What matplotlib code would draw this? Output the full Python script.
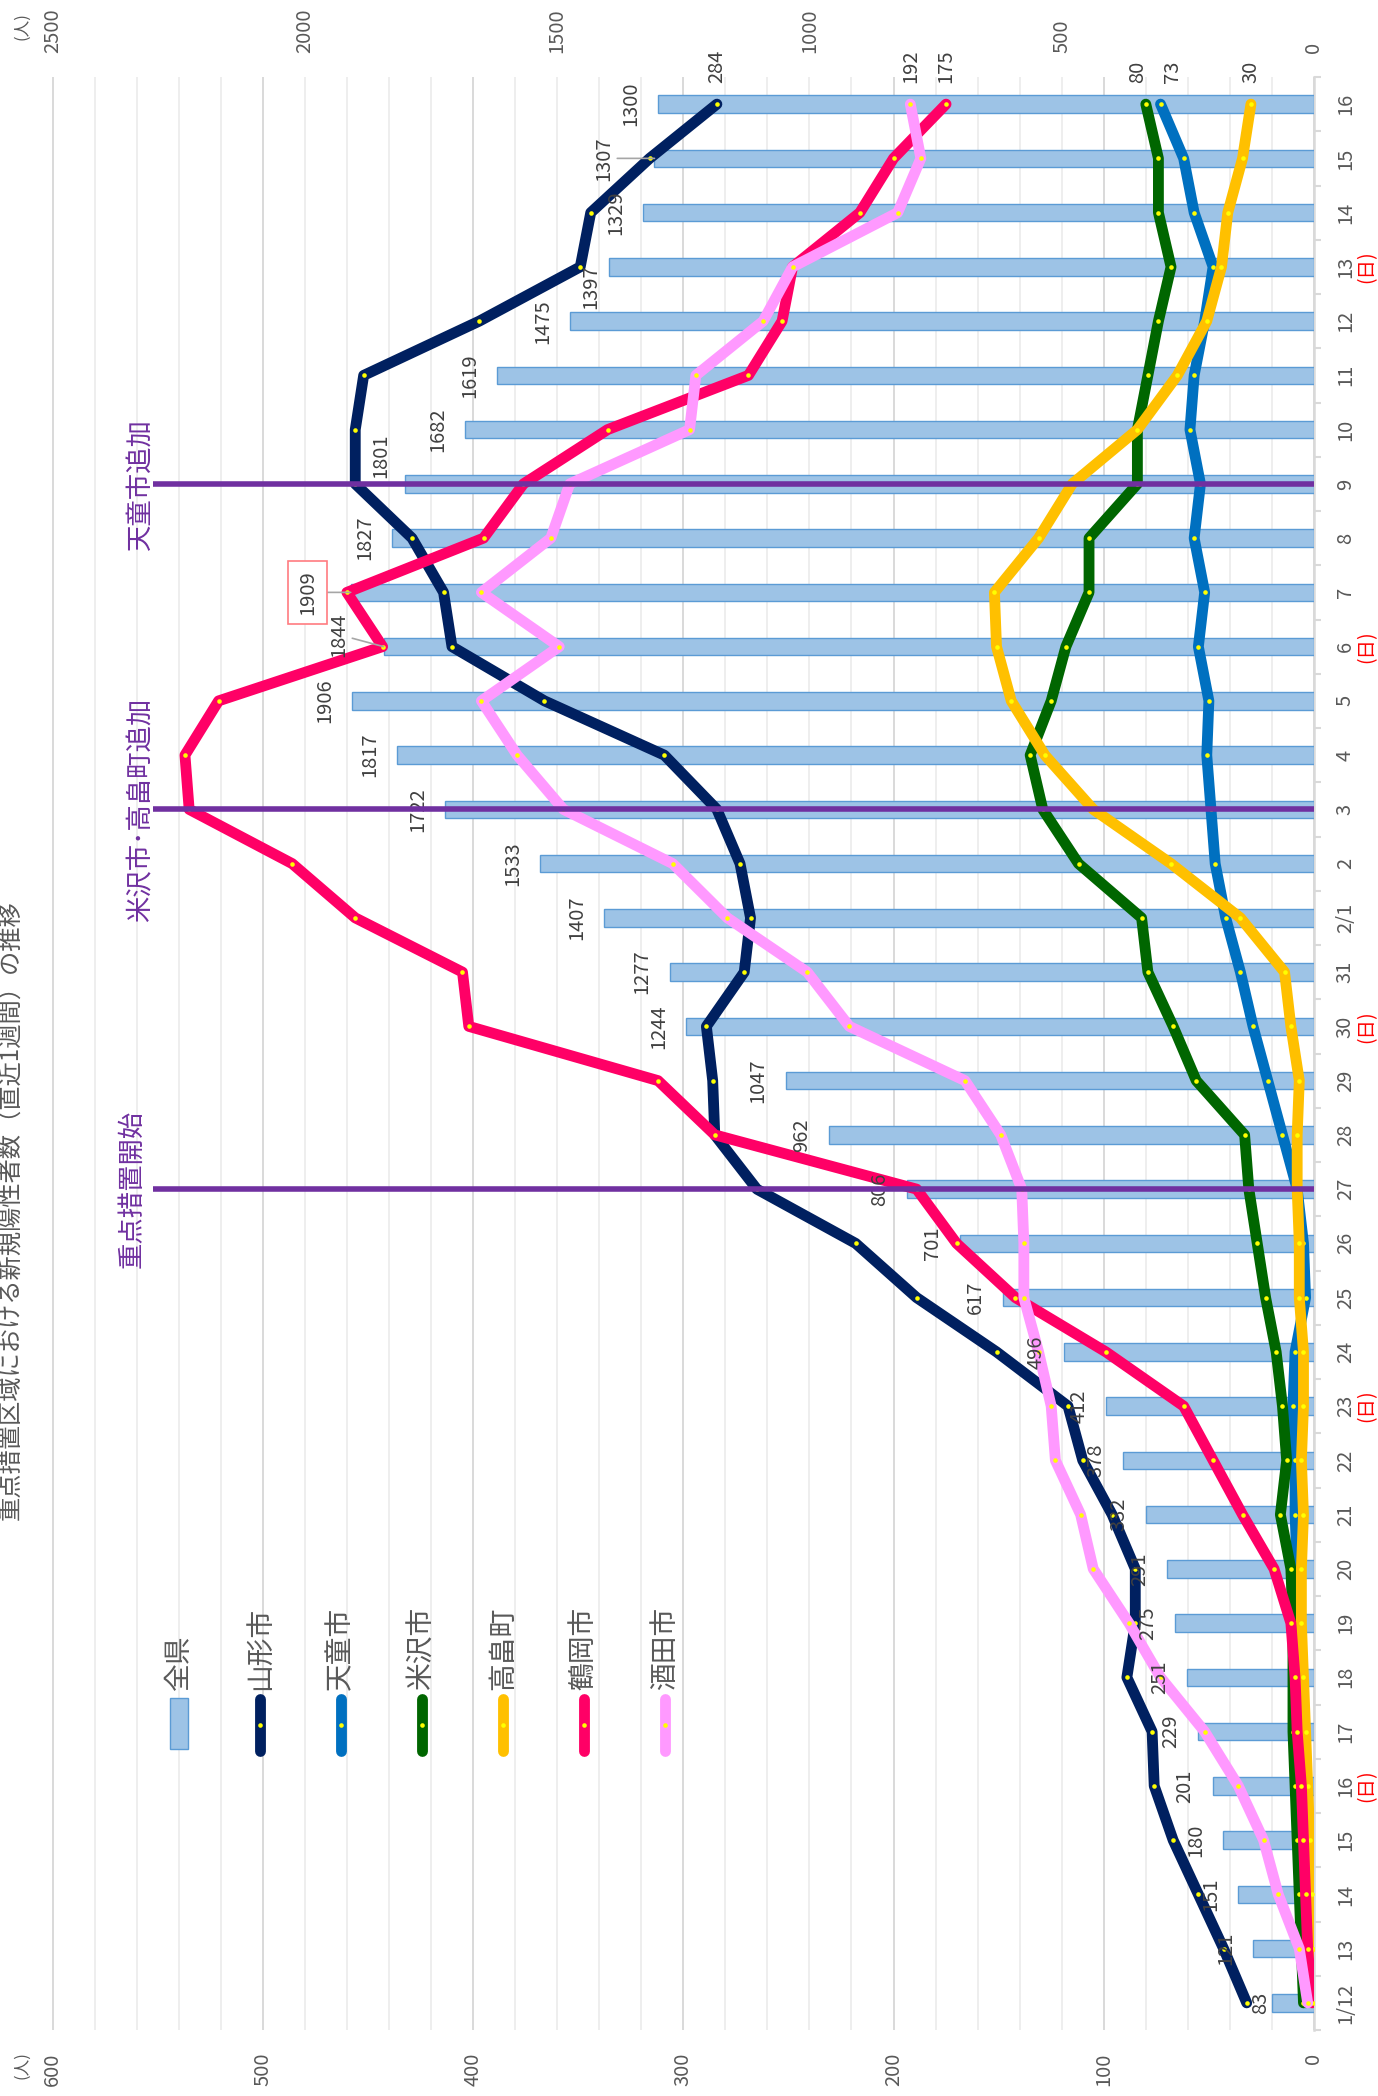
import matplotlib
matplotlib.use('Agg')
import matplotlib.pyplot as plt
from matplotlib.transforms import blended_transform_factory
from matplotlib.lines import Line2D
from matplotlib.patches import Rectangle
import numpy as np

plt.rcParams['font.family'] = ['Noto Sans CJK JP', 'DejaVu Sans']

# ---------------- data ----------------
dates = ['1/12', '13', '14', '15', '16', '17', '18', '19', '20', '21', '22', '23', '24', '25',
         '26', '27', '28', '29', '30', '31', '2/1', '2', '3', '4', '5', '6', '7', '8', '9',
         '10', '11', '12', '13', '14', '15', '16']
day_marks = ['', '', '', '', '(日)', '', '', '', '', '', '', '(日)', '', '', '', '', '', '',
             '(日)', '', '', '', '', '', '', '(日)', '', '', '', '', '', '', '(日)', '', '', '']

zenken = [83, 121, 151, 180, 201, 229, 251, 275, 291, 332, 378, 412, 496, 617, 701, 806,
          962, 1047, 1244, 1277, 1407, 1533, 1722, 1817, 1906, 1844, 1909, 1827, 1801, 1682,
          1619, 1475, 1397, 1329, 1307, 1300]
yamagata = [32, 43, 55, 67, 76, 77, 89, 85, 85, 96, 110, 117, 151, 189, 218, 265, 285, 286,
            289, 271, 268, 273, 284, 309, 366, 410, 414, 429, 456, 456, 452, 397, 349, 344,
            316, 284]
tendo = [4, 6, 6, 6, 6, 6, 6, 7, 8, 9, 9, 10, 9, 4, 5, 8, 15, 22, 29, 35, 42, 47, 49, 51,
         50, 55, 52, 57, 54, 59, 57, 52, 48, 57, 62, 73]
yonezawa = [5, 6, 7, 8, 9, 10, 10, 10, 11, 16, 13, 15, 18, 23, 27, 31, 33, 56, 67, 79, 82,
            112, 129, 135, 125, 118, 107, 107, 84, 84, 79, 74, 68, 74, 74, 80]
takahata = [0, 0, 1, 2, 3, 4, 5, 6, 6, 5, 6, 5, 5, 7, 7, 8, 8, 7, 11, 14, 35, 68, 105, 128,
            144, 151, 152, 131, 115, 84, 65, 51, 44, 41, 34, 30]
tsuruoka = [1, 3, 4, 5, 6, 8, 9, 11, 19, 34, 48, 62, 99, 142, 170, 189, 285, 312, 402, 405,
            456, 486, 535, 537, 521, 443, 460, 395, 376, 336, 269, 253, 248, 216, 200, 175]
sakata = [3, 7, 17, 24, 36, 52, 73, 88, 105, 111, 123, 125, 131, 138, 138, 139, 149, 166,
          221, 241, 279, 305, 357, 379, 396, 359, 396, 363, 354, 297, 294, 262, 248, 198, 187,
          192]

series_names = ['山形市', '天童市', '米沢市', '高畠町', '鶴岡市', '酒田市']
series_values = [yamagata, tendo, yonezawa, takahata, tsuruoka, sakata]
series_colors = ['#002060', '#0070C0', '#006600', '#FFC000', '#FF0066', '#FF99FF']

event_dates = ['27', '3', '9']
event_labels = ['重点措置開始', '米沢市･高畠町追加', '天童市追加']

title = '重点措置区域における新規陽性者数（直近1週間）の推移'

# ---------------- figure ----------------
W, H = 1378, 2096
fig = plt.figure(figsize=(W / 100, H / 100), dpi=100)
fig.patch.set_facecolor('white')

x0, x1 = 52.5, 1314.0
ytop, ybot = 77.0, 2030.0
rect = [x0 / W, 1 - ybot / H, (x1 - x0) / W, (ybot - ytop) / H]

ax_grid = fig.add_axes(rect, zorder=0)
ax_bar = fig.add_axes(rect, zorder=1)
ax_line = fig.add_axes(rect, zorder=2)
ax_bar.patch.set_visible(False)
ax_line.patch.set_visible(False)

n = len(dates)
idx = np.arange(n)
for a in (ax_grid, ax_bar, ax_line):
    a.set_ylim(-0.5, n - 0.5)
    for s in a.spines.values():
        s.set_visible(False)

CITY_MAX, PREF_MAX = 600, 2500
ax_grid.set_xlim(CITY_MAX, 0)
ax_line.set_xlim(CITY_MAX, 0)
ax_bar.set_xlim(PREF_MAX, 0)

txt_gray = '#595959'

# grid (city scale)
ax_grid.set_xticks(np.arange(0, CITY_MAX + 1, 100))
ax_grid.set_xticks(np.arange(0, CITY_MAX + 1, 20), minor=True)
ax_grid.grid(axis='x', which='minor', color='#EDEDED', lw=1.3)
ax_grid.grid(axis='x', which='major', color='#D9D9D9', lw=1.4)
ax_grid.tick_params(axis='x', which='both', bottom=False, top=False,
                    labelbottom=False, labeltop=False)
ax_grid.spines['right'].set_visible(True)
ax_grid.spines['right'].set_color('#D9D9D9')
ax_grid.spines['right'].set_linewidth(1.8)

# date axis (right side)
ax_grid.yaxis.tick_right()
ax_grid.set_yticks(idx)
ax_grid.set_yticklabels(dates)
ax_grid.set_yticks(np.arange(-0.5, n, 1), minor=True)
ax_grid.tick_params(axis='y', which='major', length=0, pad=15, labelsize=14.5,
                    labelcolor=txt_gray, labelrotation=90, left=False)
ax_grid.tick_params(axis='y', which='minor', length=5, width=1.5, color='#D9D9D9',
                    right=True, left=False)
for lab in ax_grid.get_yticklabels():
    lab.set_va('center')
    lab.set_ha('left')

trans_fx = blended_transform_factory(fig.transFigure, ax_grid.transData)
for i, mk in enumerate(day_marks):
    if mk:
        ax_grid.text(1367 / W, i, mk, transform=trans_fx, color='#FF0000', rotation=90,
                     ha='center', va='center', fontsize=14)

# bars (prefecture scale, top axis)
ax_bar.barh(idx, zenken, height=0.32, color='#9DC3E6', edgecolor='#5B9BD5', linewidth=1.0)
ax_bar.xaxis.tick_top()
ax_bar.set_xticks(np.arange(0, PREF_MAX + 1, 500))
ax_bar.tick_params(axis='x', length=0, pad=17.5, labelsize=14.5, labelcolor=txt_gray,
                   labelrotation=90)
ax_bar.tick_params(axis='y', left=False, right=False, labelleft=False, labelright=False)

# lines (city scale, bottom axis)
ax_line.set_xticks(np.arange(0, CITY_MAX + 1, 100))
ax_line.tick_params(axis='x', length=0, pad=16.5, labelsize=14.5, labelcolor=txt_gray,
                    labelrotation=90, bottom=True, top=False)
ax_line.tick_params(axis='y', left=False, right=False, labelleft=False, labelright=False)

LW = 7.8
for name, vals, col in zip(series_names, series_values, series_colors):
    ax_line.plot(vals, idx, color=col, lw=LW, solid_capstyle='round',
                 solid_joinstyle='round', marker='o', ms=3.3, mfc='#FFFF00', mec='none',
                 label=name, zorder=3)

# bar labels (drawn above the lines); a few were moved by hand in the reference
label_offsets = {0: (-1, 0), 25: (-24.5, 8.6), 26: (-23.4, 0), 28: (-10, 19.9),
                 32: (-5.5, -14.4), 34: (-28.8, 0)}
leader_idx = {25, 26, 34}
for i, v in enumerate(zenken):
    dx, dy = label_offsets.get(i, (-12.2, 0))
    kw = {}
    if i in leader_idx:
        kw['arrowprops'] = dict(arrowstyle='-', color='#A6A6A6', lw=1.2, shrinkA=0, shrinkB=0)
    if i == 26:
        kw['bbox'] = dict(boxstyle='square,pad=0.45', fc='white', ec='#FF7C80', lw=1.2)
    ax_line.annotate(str(v), xy=(v, i), xycoords=ax_bar.transData, xytext=(dx, dy),
                     textcoords='offset points', ha='right', va='center', rotation=90,
                     fontsize=14.5, color='#404040', zorder=5, **kw)

# last-point labels
end_dx = {'米沢市': -5.8, '天童市': 8.6}
for name, vals in zip(series_names, series_values):
    ax_line.annotate(str(vals[-1]), xy=(vals[-1], n - 1),
                     xytext=(end_dx.get(name, 0), 15.5), textcoords='offset points',
                     ha='center', va='bottom', rotation=90, fontsize=14.5, color='#404040',
                     zorder=5)

# event lines
purple = '#7030A0'
label_x = [562, 558, 558]
for d, lab, lx in zip(event_dates, event_labels, label_x):
    i = dates.index(d)
    ax_line.hlines(i, 0, 552, color=purple, lw=4, zorder=6)
    ax_line.text(lx, i, lab, rotation=90, ha='center', va='center', fontsize=19,
                 color=purple, zorder=6)

# legend (drawn by hand, rotated)
leg_x = [178.5, 259.8, 340.5, 421.5, 503.0, 583.6, 664.6]
leg_text_bottom = 1690
leg_y0, leg_y1 = 1693, 1756
fig.add_artist(Rectangle(((leg_x[0] - 9) / W, 1 - 1749 / H), 18 / W, 51 / H,
                         transform=fig.transFigure, fc='#9DC3E6', ec='#5B9BD5', lw=1.0))
fig.text(leg_x[0] / W, 1 - leg_text_bottom / H, '全県', rotation=90, ha='center',
         va='bottom', fontsize=20, color=txt_gray)
for xx, name, col in zip(leg_x[1:], series_names, series_colors):
    fig.add_artist(Line2D([xx / W, xx / W], [1 - (leg_y0 + 5.5) / H, 1 - (leg_y1 - 5.5) / H],
                          transform=fig.transFigure, color=col, lw=LW,
                          solid_capstyle='round'))
    fig.add_artist(Line2D([xx / W], [1 - (leg_y0 + leg_y1) / 2 / H], transform=fig.transFigure,
                          marker='o', ms=3.3, mfc='#FFFF00', mec='none', ls='none'))
    fig.text(xx / W, 1 - leg_text_bottom / H, name, rotation=90, ha='center', va='bottom',
             fontsize=20, color=txt_gray)

# title (partly cut off at the left edge as in the reference)
fig.text(11 / W, 1 - 1210.5 / H, title, rotation=90, ha='center', va='center',
         fontsize=17.5, color=txt_gray)

# units
fig.text(22 / W, 1 - 26 / H, '(人)', rotation=90, ha='center', va='center', fontsize=12,
         color=txt_gray)
fig.text(22 / W, 1 - 2065 / H, '(人)', rotation=90, ha='center', va='center', fontsize=12,
         color=txt_gray)

fig.savefig('out.png', dpi=100, facecolor='white')
